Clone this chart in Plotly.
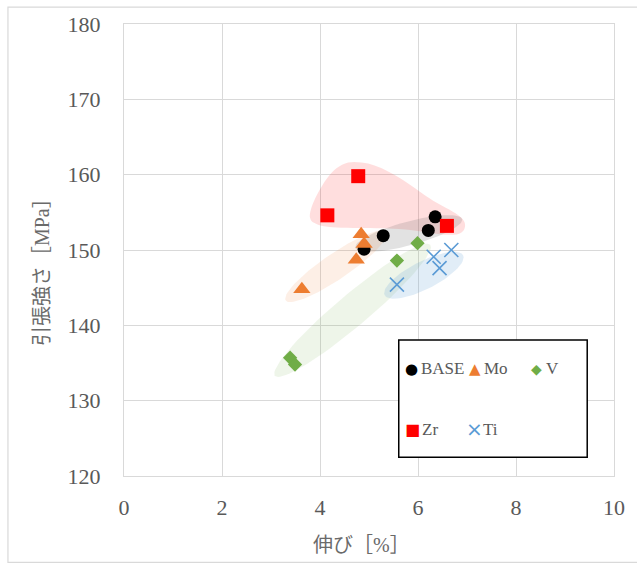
import numpy as np
import plotly.graph_objects as go

# Elongation [%] and tensile strength [MPa] per alloy series
base_x = [5.29, 6.35, 6.21, 4.90]
base_y = [151.9, 154.4, 152.6, 150.1]
mo_x = [4.84, 4.90, 4.74, 3.63]
mo_y = [152.1, 150.8, 148.7, 144.8]
v_x = [5.99, 5.57, 3.39, 3.49]
v_y = [150.9, 148.6, 135.7, 134.8]
zr_x = [4.78, 4.15, 6.59]
zr_y = [159.8, 154.6, 153.2]
ti_x = [5.57, 6.32, 6.68, 6.44]
ti_y = [145.4, 149.1, 150.0, 147.6]

x_ticks = [0, 2, 4, 6, 8, 10]
y_ticks = [120, 130, 140, 150, 160, 170, 180]

W, H = 637, 565
ML, MR, MT, MB = 124, 19, 21, 89
PW, PH = W - ML - MR, H - MT - MB
XR, YR = (0, 10), (120, 180)
SX = PW / (XR[1] - XR[0])   # px per % elongation
SY = PH / (YR[1] - YR[0])   # px per MPa

GRAY_TXT = "#595959"
GRID = "#d9d9d9"
FONT = "Liberation Serif, Noto Sans CJK JP, serif"


def px(xp):
    return (xp - ML) / PW


def py(yp):
    return (H - MB - yp) / PH


def capsule(p0, p1, half_px, n=80):
    """Ellipse spanning p0..p1 (data units) with a half width given in pixels."""
    a0 = np.array([p0[0] * SX, p0[1] * SY])
    a1 = np.array([p1[0] * SX, p1[1] * SY])
    c = (a0 + a1) / 2
    d = a1 - a0
    L = np.linalg.norm(d) / 2
    u = d / np.linalg.norm(d)
    v = np.array([-u[1], u[0]])
    t = np.linspace(0, 2 * np.pi, n)
    pts = c[None, :] + np.outer(L * np.cos(t), u) + np.outer(half_px * np.sin(t), v)
    return pts[:, 0] / SX, pts[:, 1] / SY


fig = go.Figure()

# Shaded group regions
zr_region_x = [3.80, 4.05, 4.45, 4.85, 5.40, 6.25, 6.95, 6.88, 5.60, 3.95, 3.80]
zr_region_y = [154.2, 158.6, 161.3, 161.6, 160.4, 156.8, 153.7, 152.3, 152.8, 153.4, 154.2]
fig.add_trace(go.Scatter(x=zr_region_x, y=zr_region_y, mode="lines", fill="toself",
                         line=dict(width=0, shape="spline", smoothing=1.1),
                         fillcolor="rgba(255,0,0,0.13)", hoverinfo="skip", showlegend=False))

regions = [
    ((4.72, 150.3), (6.90, 154.1), 12, "rgba(110,110,110,0.20)"),
    ((3.30, 143.3), (5.36, 152.4), 13, "rgba(237,125,49,0.12)"),
    ((3.08, 133.3), (6.25, 150.7), 16, "rgba(112,173,71,0.12)"),
    ((5.32, 144.0), (6.92, 149.3), 14, "rgba(91,155,213,0.18)"),
]
for p0, p1, hw, col in regions:
    ex, ey = capsule(p0, p1, hw)
    fig.add_trace(go.Scatter(x=ex, y=ey, mode="lines", fill="toself",
                             line=dict(width=0), fillcolor=col,
                             hoverinfo="skip", showlegend=False))

series = [
    ("BASE", base_x, base_y, dict(symbol="circle", size=13, color="#000000")),
    ("Mo", mo_x, mo_y, dict(symbol="triangle-up", size=15, color="#ED7D31")),
    ("V", v_x, v_y, dict(symbol="diamond", size=11, color="#70AD47")),
    ("Zr", zr_x, zr_y, dict(symbol="square", size=14, color="#FF0000")),
    ("Ti", ti_x, ti_y, dict(symbol="x-thin", size=14, color="#5B9BD5",
                            line=dict(width=1.6, color="#5B9BD5"))),
]
for name, xs, ys, mk in series:
    fig.add_trace(go.Scatter(x=xs, y=ys, mode="markers", name=name, marker=mk,
                             showlegend=False))

shapes = [
    # outer frame
    dict(type="rect", xref="paper", yref="paper", x0=px(7), x1=px(700), y0=py(563), y1=py(4),
         line=dict(color=GRID, width=1.2), fillcolor="rgba(0,0,0,0)", layer="below"),
    # legend box
    dict(type="rect", xref="paper", yref="paper", x0=px(401), x1=px(591), y0=py(457), y1=py(339),
         line=dict(color="#000000", width=1.5), fillcolor="#ffffff", layer="above"),
]

annotations = [
    dict(text="伸び［%］", x=px(363), y=py(545), xref="paper", yref="paper",
         xanchor="center", yanchor="middle",
         showarrow=False, font=dict(family=FONT, size=20, color="#6a6a6a")),
    dict(text="引張強さ［MPa］", x=px(42), y=py(266), xref="paper", yref="paper",
         xanchor="center", yanchor="middle",
         showarrow=False, textangle=-90, font=dict(family=FONT, size=20, color="#6a6a6a")),
]

# legend entries: glyph, glyph colour, label, glyph centre (px)
legend_items = [
    ("●", "#000000", "BASE", 414, 368, 15),
    ("▲", "#ED7D31", "Mo", 478, 368, 15),
    ("◆", "#70AD47", "V", 540, 368, 14),
    ("■", "#FF0000", "Zr", 415, 429, 16),
    ("×", "#5B9BD5", "Ti", 477, 429, 20),
]
for glyph, col, label, gx, gy, gs in legend_items:
    annotations.append(dict(text=glyph, x=px(gx), y=py(gy), xref="paper", yref="paper",
                            showarrow=False, xanchor="center", yanchor="middle",
                            font=dict(family="DejaVu Sans", size=gs, color=col)))
    annotations.append(dict(text=label, x=px(gx + 7), y=py(gy), xref="paper", yref="paper",
                            showarrow=False, xanchor="left", yanchor="middle",
                            font=dict(family=FONT, size=17, color=GRAY_TXT)))

fig.update_layout(
    width=W, height=H,
    margin=dict(l=ML, r=MR, t=MT, b=MB),
    paper_bgcolor="#ffffff", plot_bgcolor="#ffffff",
    showlegend=False,
    shapes=shapes,
    annotations=annotations,
    xaxis=dict(range=list(XR), tickvals=x_ticks, ticktext=[str(t) for t in x_ticks],
               showgrid=True, gridcolor=GRID, gridwidth=1, zeroline=False,
               showline=True, linecolor=GRID, mirror=True, ticks="", ticklen=0,
               ticklabelstandoff=12,
               tickfont=dict(family=FONT, size=22, color=GRAY_TXT)),
    yaxis=dict(range=list(YR), tickvals=y_ticks, ticktext=[str(t) for t in y_ticks],
               showgrid=True, gridcolor=GRID, gridwidth=1, zeroline=False,
               showline=True, linecolor=GRID, mirror=True, ticks="", ticklen=0,
               ticklabelstandoff=18,
               tickfont=dict(family=FONT, size=22, color=GRAY_TXT)),
)

fig.write_html("out.html")
